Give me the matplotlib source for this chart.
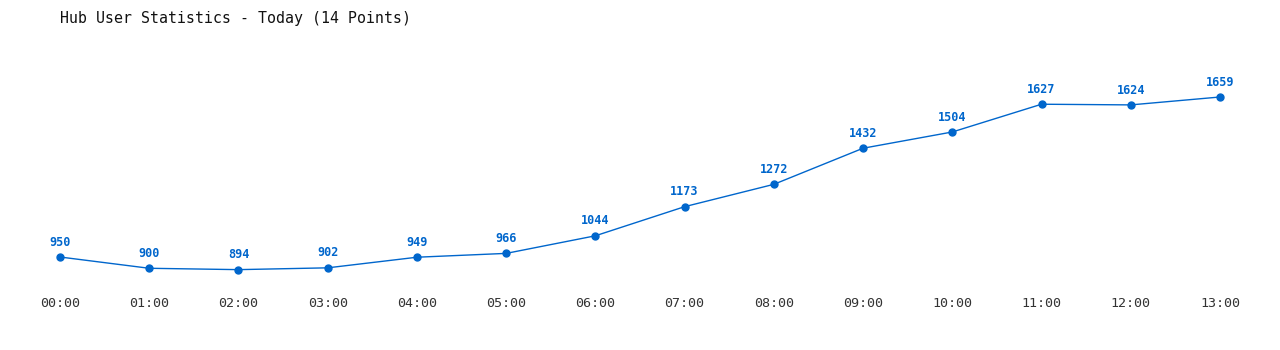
import matplotlib
matplotlib.use("Agg")
import matplotlib.pyplot as plt

hours = ["00:00", "01:00", "02:00", "03:00", "04:00", "05:00", "06:00",
         "07:00", "08:00", "09:00", "10:00", "11:00", "12:00", "13:00"]
users = [950, 900, 894, 902, 949, 966, 1044, 1173, 1272, 1432, 1504, 1627, 1624, 1659]

blue = "#0066cc"
mono = "DejaVu Sans Mono"

fig = plt.figure(figsize=(12.8, 3.5), dpi=100)
# plot area: top at 97px from top, about 0.2257 px per user
ymin, ymax = min(users), max(users)
h = (ymax - ymin) * 160 / 709
ax = fig.add_axes([60 / 1280, (253 - h) / 350, 1160 / 1280, h / 350])

x = list(range(len(users)))
ax.plot(x, users, color=blue, linewidth=1, marker="o", markersize=5, clip_on=False)
for xi, v in zip(x, users):
    ax.annotate(str(v), (xi, v), xytext=(0, 6), textcoords="offset points",
                ha="center", va="bottom", color=blue, fontsize=8.5,
                fontweight="bold", family=mono)

ax.set_xlim(0, len(users) - 1)
ax.set_ylim(ymin, ymax)
ax.set_xticks(x)
ax.set_xticklabels(hours, family=mono, fontsize=9.6, color="#333333")
ax.tick_params(axis="x", length=0, pad=20)
ax.set_yticks([])
for s in ax.spines.values():
    s.set_visible(False)

fig.text(60 / 1280, 1 - 18 / 350, "Hub User Statistics - Today (14 Points)",
         family=mono, fontsize=10.7, color="#111111", ha="left", va="center")

fig.savefig("out.png", dpi=100)
